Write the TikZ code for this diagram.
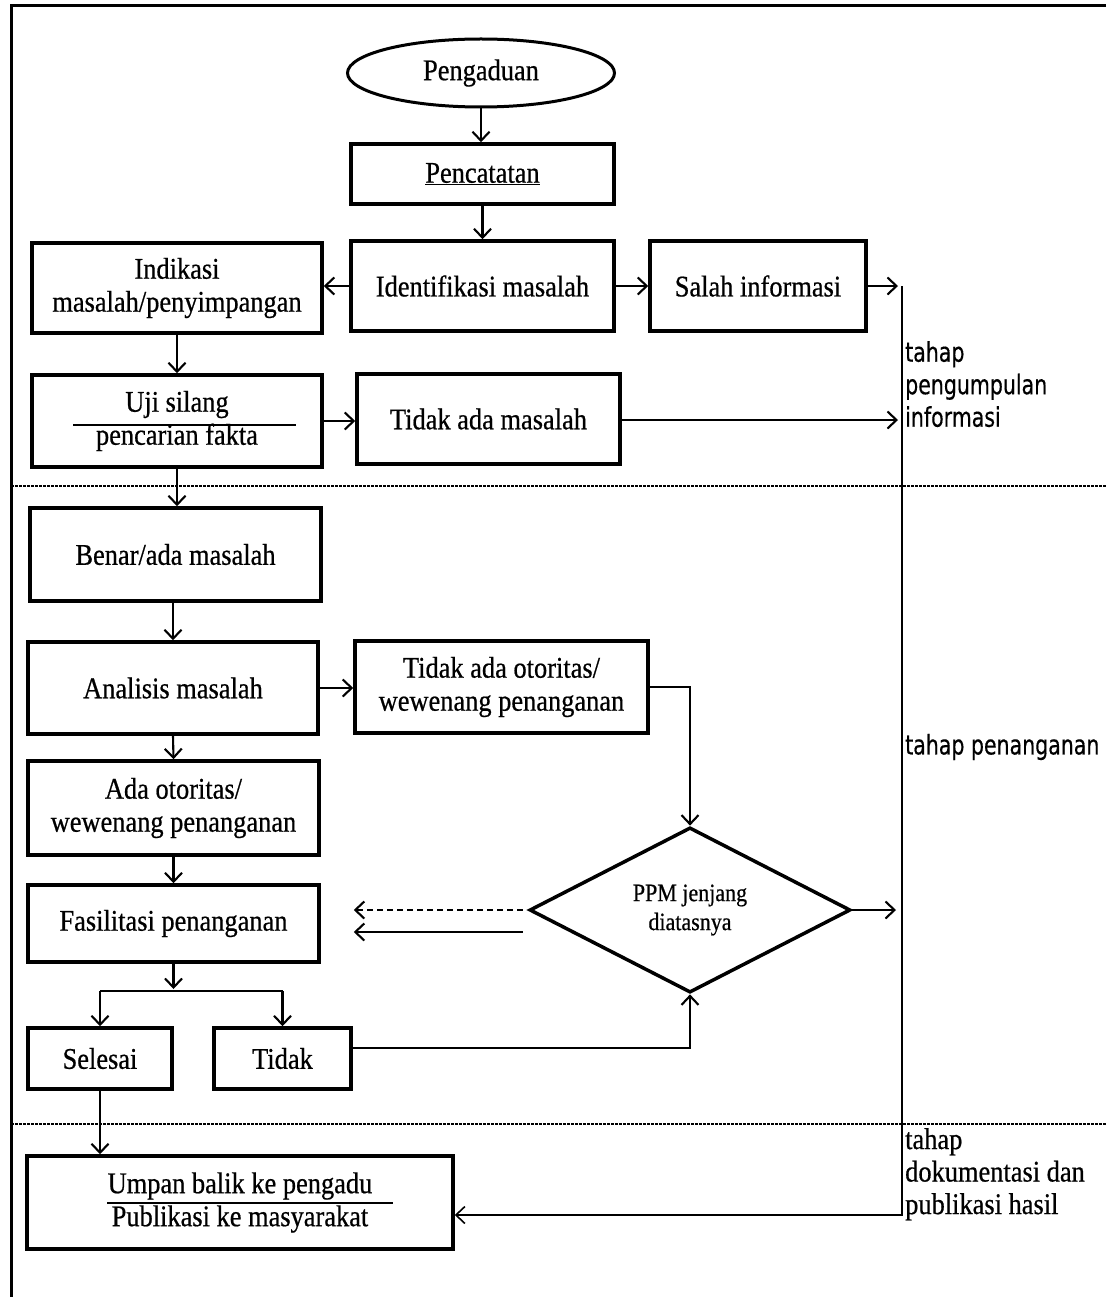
\documentclass[tikz,border=0pt]{standalone}
\usepackage{fontspec}
\setmainfont{Liberation Serif}[FakeStretch=0.88,FakeBold=0.6]
\newfontfamily\labfont{DejaVu Sans}[FakeStretch=0.76,FakeBold=0.4]
\usetikzlibrary{arrows.meta,shapes.geometric,calc}
\begin{document}
\begin{tikzpicture}[x=1pt,y=-1pt,
  box/.style={draw,line width=3.5pt,inner sep=0pt,align=center,font=\fontsize{30}{33}\selectfont},
  arr/.style={line width=2.1pt,-{Straight Barb[length=9pt,width=17pt]}},
  conn/.style={line width=2.1pt},
  sepline/.style={line width=1.6pt,dash pattern=on 2.5pt off 1.5pt},
  lab/.style={anchor=north west,align=left,inner sep=0pt}]
\useasboundingbox (0,0) rectangle (1106,1297);
% frame
\draw[line width=3pt] (1106,6) -- (11,6) -- (11,1297);
% separators
\draw[sepline] (11,486) -- (1106,486);
\draw[sepline] (11,1124) -- (1106,1124);

% nodes
\node[draw,ellipse,line width=3pt,minimum width=267pt,minimum height=68pt,inner sep=0pt,font=\fontsize{30}{33}\selectfont] (peng) at (481,73) {Pengaduan};
\node[box,minimum width=263pt,minimum height=60pt] (penc) at (482.5,174) {\underline{Pencatatan}};
\node[box,minimum width=263pt,minimum height=90pt] (ident) at (482.5,286) {Identifikasi masalah};
\node[box,minimum width=290pt,minimum height=90pt] (indik) at (177,288) {Indikasi\\masalah/penyimpangan};
\node[box,minimum width=216pt,minimum height=90pt] (salah) at (758,286) {Salah informasi};
\node[box,minimum width=290pt,minimum height=92pt] (uji) at (177,421) {Uji silang\\[0pt]pencarian fakta};
\node[box,minimum width=263pt,minimum height=90pt] (tidakm) at (488.5,419) {Tidak ada masalah};
\node[box,minimum width=291pt,minimum height=93pt] (benar) at (175.5,554.5) {Benar/ada masalah};
\node[box,minimum width=290pt,minimum height=92pt] (anal) at (173,688) {Analisis masalah};
\node[box,minimum width=293pt,minimum height=92pt] (tidako) at (501.5,687) {Tidak ada otoritas/\\wewenang penanganan};
\node[box,minimum width=291pt,minimum height=94pt] (ada) at (173.5,808) {Ada otoritas/\\wewenang penanganan};
\node[box,minimum width=291pt,minimum height=77pt] (fasil) at (173.5,923.5) {Fasilitasi penanganan};
\node[draw,diamond,line width=3.5pt,minimum width=321pt,minimum height=156pt,inner sep=0pt,align=center,font=\fontsize{25}{29}\selectfont] (ppm) at (690,910) {PPM jenjang\\diatasnya};
\node[box,minimum width=144pt,minimum height=61pt] (selesai) at (100,1058.5) {Selesai};
\node[box,minimum width=137pt,minimum height=61pt] (tidak) at (282.5,1058.5) {Tidak};
\node[box,minimum width=426pt,minimum height=93pt] (umpan) at (240,1202.5) {Umpan balik ke pengadu\\Publikasi ke masyarakat};

% separator rules inside boxes
\draw[line width=2pt] ($(uji.center)+(-104,4)$) -- ($(uji.center)+(119,4)$);
\draw[line width=2pt] ($(umpan.center)+(-133,0)$) -- ($(umpan.center)+(153,0)$);

% side labels
\node[lab,font=\labfont\fontsize{27}{32.5}\selectfont] (lab1) at (905,341) {tahap\\pengumpulan\\informasi};
\node[lab,anchor=west,font=\labfont\fontsize{27}{32.5}\selectfont] (lab2) at (905,747) {tahap penanganan};
\node[lab,font=\fontsize{30}{32.5}\selectfont] (lab3) at (905,1128) {tahap\\dokumentasi dan\\publikasi hasil};

% coordinates
\coordinate (vtop) at (902,286);
\coordinate (vbot) at (902,1215);
\coordinate (r1) at (898,286);
\coordinate (r2) at (898,420);
\coordinate (r3) at (896,910);
\coordinate (br) at (173.5,991);

% connectors
\draw[arr] (peng.south) -- (peng.south |- penc.north);
\draw[arr] (penc.south) -- (ident.north);
\draw[arr] (ident.west) -- (indik.east |- ident.west);
\draw[arr] (ident.east) -- (salah.west);
\draw[arr] (salah.east) -- (r1 |- salah.east);
\draw[arr] (indik.south) -- (uji.north);
\draw[arr] (uji.east) -- (tidakm.west |- uji.east);
\draw[arr] (tidakm.east |- r2) -- (r2);
\draw[arr] (uji.south) -- (uji.south |- benar.north);
\draw[arr] (anal.north |- benar.south) -- (anal.north);
\draw[arr] (anal.east) -- (tidako.west |- anal.east);
\draw[arr] (tidako.east) -| (ppm.north);
\draw[arr] (anal.south) -- (ada.north);
\draw[arr] (ada.south) -- (fasil.north);
\draw[arr,dash pattern=on 6pt off 4pt] ([xshift=-5pt]ppm.west) -- ([xshift=33pt]fasil.east |- ppm.west);
\draw[arr] ([xshift=-5pt,yshift=-22pt]ppm.west) -- ([xshift=33pt,yshift=-22pt]fasil.east |- ppm.west);
\draw[arr] (ppm.east) -- (r3);
\draw[arr] (fasil.south) -- ([yshift=2pt]br);
\draw[conn] (br -| selesai.north) -- (br -| tidak.north);
\draw[arr] (br -| selesai.north) -- (selesai.north);
\draw[arr] (br -| tidak.north) -- (tidak.north);
\draw[arr] ([yshift=10.5pt]tidak.east) -| (ppm.south);
\draw[arr] (selesai.south) -- (selesai.south |- umpan.north);
\draw[arr,line width=1.6pt] (vtop) -- (vbot) -- (umpan.east |- vbot);
\end{tikzpicture}
\end{document}
